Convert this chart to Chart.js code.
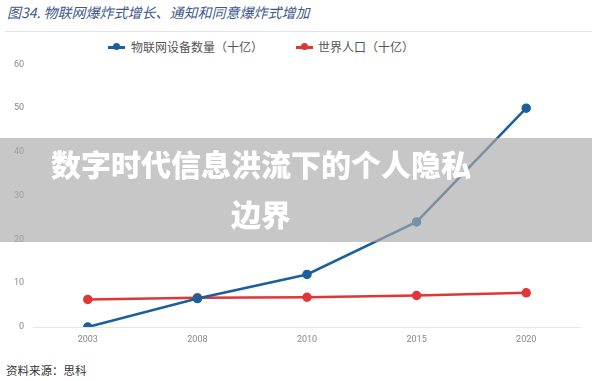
<!DOCTYPE html>
<html>
<head>
<meta charset="utf-8">
<script src="https://cdn.jsdelivr.net/npm/chart.js@4"></script>
<style>
  html,body{margin:0;padding:0;background:#fff;}
  body{width:592px;height:381px;position:relative;overflow:hidden;font-family:"Noto Sans CJK SC","Noto Sans",sans-serif;}
  #title{position:absolute;left:7px;top:2px;font-size:14px;font-style:italic;color:#3f5a8c;white-space:nowrap;}
  #sep{position:absolute;left:5px;right:0;top:31px;height:1px;background:#e4e4e4;}
  #legend{position:absolute;top:38px;left:0;height:18px;font-size:12px;color:#555;}
  .li{position:absolute;top:0;white-space:nowrap;line-height:18px;}
  .mk{position:absolute;top:8px;width:17px;height:2.5px;}
  .mk i{position:absolute;left:5px;top:-3px;width:7px;height:7px;border-radius:50%;}
  #wrap{position:absolute;left:0;top:50px;width:592px;height:300px;}
  #band{position:absolute;left:0;top:138px;width:592px;height:104px;background:rgba(170,170,170,0.66);}
  #bandtxt{position:absolute;left:0;top:138px;width:522px;text-align:center;color:#fff;font-weight:900;font-size:30px;line-height:50px;}
  #src{position:absolute;left:6px;top:362px;font-size:11.5px;color:#333;}
</style>
</head>
<body>
<div id="title">图34. 物联网爆炸式增长、通知和同意爆炸式增加</div>
<div id="sep"></div>
<div id="legend"></div>
<div id="wrap"><canvas id="c" width="592" height="300"></canvas></div>
<div id="band"></div>
<div id="bandtxt">数字时代信息洪流下的个人隐私<br>边界</div>
<div id="src">资料来源：思科</div>
<script>
const categories = ["2003", "2008", "2010", "2015", "2020"];
const iotDevices = [0, 6.5, 12, 24, 50];
const worldPopulation = [6.3, 6.7, 6.8, 7.2, 7.8];
const yTicks = [0, 10, 20, 30, 40, 50, 60];
const seriesNames = ["物联网设备数量（十亿）", "世界人口（十亿）"];
const seriesColors = ["#1b5f9c", "#e03636"];

// HTML legend
const legendPos = [{mk:108, tx:131}, {mk:296, tx:318}];
const lg = document.getElementById('legend');
seriesNames.forEach((n, i) => {
  const mk = document.createElement('div');
  mk.className = 'mk';
  mk.style.left = legendPos[i].mk + 'px';
  mk.style.background = seriesColors[i];
  const dot = document.createElement('i');
  dot.style.background = seriesColors[i];
  mk.appendChild(dot);
  lg.appendChild(mk);
  const t = document.createElement('div');
  t.className = 'li';
  t.style.left = legendPos[i].tx + 'px';
  t.textContent = n;
  lg.appendChild(t);
});

new Chart(document.getElementById('c'), {
  type: 'line',
  data: {
    labels: categories,
    datasets: [
      {label: seriesNames[0], data: iotDevices, borderColor: seriesColors[0], backgroundColor: seriesColors[0],
       borderWidth: 2.5, pointRadius: 3.5, pointHoverRadius: 3.5, tension: 0},
      {label: seriesNames[1], data: worldPopulation, borderColor: seriesColors[1], backgroundColor: seriesColors[1],
       borderWidth: 2.5, pointRadius: 3.5, pointHoverRadius: 3.5, tension: 0}
    ]
  },
  options: {
    responsive: false,
    animation: false,
    layout: {padding: {top: 12, right: 11, bottom: 0, left: 0}},
    plugins: {legend: {display: false}, tooltip: {enabled: false}},
    scales: {
      x: {
        offset: true,
        grid: {display: false, drawTicks: false},
        border: {display: false},
        ticks: {color: '#888', font: {size: 9, family: 'Roboto'}, padding: 7, maxRotation: 0},
        afterFit: s => { s.height = 23; }
      },
      y: {
        min: 0, max: 60,
        afterBuildTicks: s => { s.ticks = yTicks.map(v => ({value: v})); },
        grid: {drawTicks: false, color: ctx => ctx.tick && ctx.tick.value === 0 ? '#e6e6e6' : 'rgba(0,0,0,0)', lineWidth: 1},
        border: {display: false},
        ticks: {color: '#888', font: {size: 9, family: 'Roboto'}, padding: 9},
        afterFit: s => { s.width = 33; }
      }
    }
  }
});
</script>
</body>
</html>
